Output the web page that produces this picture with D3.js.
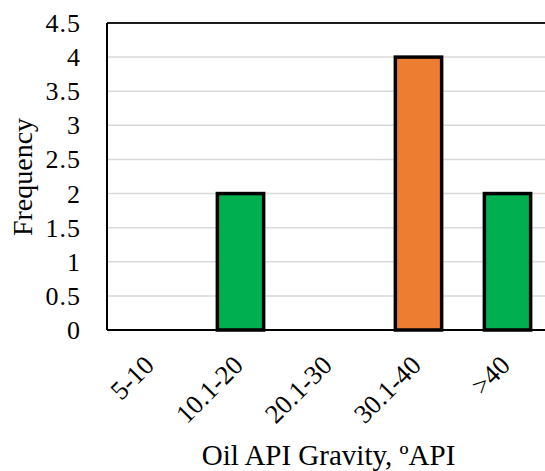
<!DOCTYPE html>
<html><head><meta charset="utf-8"><script src="https://cdn.jsdelivr.net/npm/d3@7"></script></head>
<body style="margin:0">
<svg id="s" width="545" height="471"></svg>
<script>
// Frequency of oil API gravity ranges
const categories = ["5-10", "10.1-20", "20.1-30", "30.1-40", ">40"];
const frequency = [0, 2, 0, 4, 2];
const barColors = ["#00b050", "#00b050", "#00b050", "#ed7d31", "#00b050"];
const yTicks = [0, 0.5, 1, 1.5, 2, 2.5, 3, 3.5, 4, 4.5];

const svg = d3.select("#s");
const margin = { left: 107, top: 23, bottom: 330 };
const plotRight = 552;

const x = d3.scaleBand()
  .domain(categories)
  .range([margin.left, plotRight])
  .paddingInner(0.48)
  .paddingOuter(0.24);

const y = d3.scaleLinear().domain([0, 4.5]).range([margin.bottom, margin.top]);

// horizontal gridlines
svg.append("g")
  .selectAll("line")
  .data(yTicks.filter(t => t > 0 && t < 4.5))
  .join("line")
  .attr("x1", margin.left).attr("x2", plotRight)
  .attr("y1", d => y(d)).attr("y2", d => y(d))
  .attr("stroke", "#d9d9d9").attr("stroke-width", 1.5);

// top border of plot area
svg.append("line")
  .attr("x1", margin.left).attr("x2", plotRight)
  .attr("y1", y(4.5)).attr("y2", y(4.5))
  .attr("stroke", "#1a1a1a").attr("stroke-width", 2);

// bars
svg.append("g")
  .selectAll("rect")
  .data(categories.map((c, i) => ({ c, v: frequency[i], color: barColors[i] })).filter(d => d.v > 0))
  .join("rect")
  .attr("x", d => x(d.c))
  .attr("y", d => y(d.v))
  .attr("width", x.bandwidth())
  .attr("height", d => y(0) - y(d.v))
  .attr("fill", d => d.color)
  .attr("stroke", "#000")
  .attr("stroke-width", 3.5);

// y axis: line plus tick labels placed by the scale
const yAxis = svg.append("g");
yAxis.append("line")
  .attr("x1", margin.left).attr("x2", margin.left)
  .attr("y1", y(0)).attr("y2", y(4.5))
  .attr("stroke", "#000").attr("stroke-width", 2);
yAxis.selectAll("text").data(yTicks).join("text")
  .attr("x", 81).attr("y", d => y(d) + 9)
  .attr("text-anchor", "end")
  .style("font-family", '"Liberation Serif"').style("font-size", "26px")
  .style("letter-spacing", "1px")
  .text(d => String(d));

// x axis: baseline plus rotated category labels
const xAxis = svg.append("g");
xAxis.append("line")
  .attr("x1", margin.left).attr("x2", plotRight)
  .attr("y1", y(0)).attr("y2", y(0))
  .attr("stroke", "#000").attr("stroke-width", 2);
xAxis.selectAll("text").data(categories).join("text")
  .attr("text-anchor", "end")
  .attr("transform", d => `translate(${x(d) + x.bandwidth() / 2 + 4},${y(0) + 37}) rotate(-45)`)
  .style("font-family", '"Liberation Serif"').style("font-size", "26.5px")
  .text(d => d);

// axis titles
svg.append("text")
  .attr("x", 328.5).attr("y", 465)
  .attr("text-anchor", "middle")
  .style("font-family", '"Liberation Serif"').style("font-size", "29px")
  .text("Oil API Gravity, ºAPI");

svg.append("text")
  .attr("transform", "translate(32,177) rotate(-90)")
  .attr("text-anchor", "middle")
  .style("font-family", '"Liberation Serif"').style("font-size", "28px")
  .text("Frequency");
</script>
</body>
</html>
